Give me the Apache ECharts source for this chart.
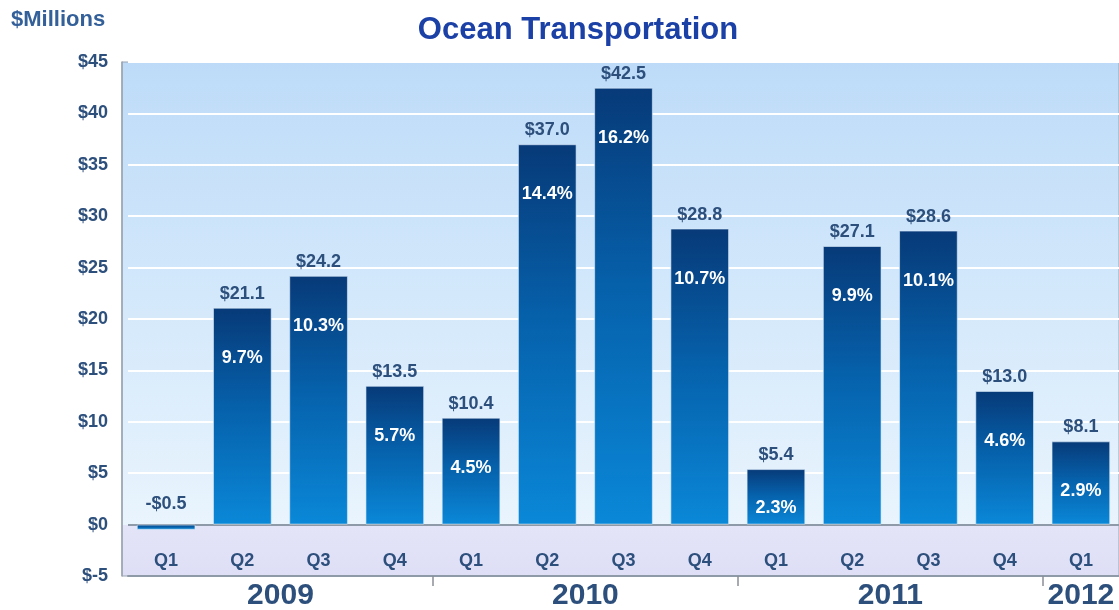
<!DOCTYPE html>
<html>
<head>
<meta charset="utf-8">
<script src="https://cdn.jsdelivr.net/npm/echarts@6/dist/echarts.min.js"></script>
<style>
html,body{margin:0;padding:0;background:#fff;}
#chart{width:1119px;height:610px;}
</style>
</head>
<body>
<div id="chart"></div>
<script>
var quarters = ['Q1','Q2','Q3','Q4','Q1','Q2','Q3','Q4','Q1','Q2','Q3','Q4','Q1'];
var values = [-0.5, 21.1, 24.2, 13.5, 10.4, 37.0, 42.5, 28.8, 5.4, 27.1, 28.6, 13.0, 8.1];
var margins = [null, '9.7%', '10.3%', '5.7%', '4.5%', '14.4%', '16.2%', '10.7%', '2.3%', '9.9%', '10.1%', '4.6%', '2.9%'];
var years = ['2009', '2010', '2011', '2012'];
var yearQuarterCounts = [4, 4, 4, 1];
var yTicks = [-5, 0, 5, 10, 15, 20, 25, 30, 35, 40, 45];

// Half-step axis for the year labels (boundaryGap false, 2 steps per quarter)
var halfSlots = [];
for (var i = 0; i <= quarters.length * 2; i++) halfSlots.push('');
var yearLabelIdx = {}, yearTickIdx = {};
var acc = 0;
for (var k = 0; k < years.length; k++) {
  var c = yearQuarterCounts[k];
  yearLabelIdx[acc * 2 + c] = years[k];
  acc += c;
  if (acc < quarters.length) yearTickIdx[acc * 2] = true;
}
for (var key in yearLabelIdx) halfSlots[key] = yearLabelIdx[key];

var barData = values.map(function (v) {
  return v < 0 ? {value: v, label: {distance: 12}} : v;
});
var pctData = values.map(function (v) {
  return v < 7 ? {value: v, label: {distance: 30}} : v;
});
// grid line colours: white, except the zero line which is grey
var splitColors = yTicks.map(function (t) { return t === 0 ? '#8f9aa8' : '#ffffff'; });

var txt = '#2d4f7c';
var bgGradient = new echarts.graphic.LinearGradient(0, 0, 0, 1, [
  {offset: 0, color: '#bddbf8'},
  {offset: 0.45, color: '#d3e8fb'},
  {offset: 0.899, color: '#e9f4fd'},
  {offset: 0.9, color: '#e4e4f8'},
  {offset: 1, color: '#dedff6'}
]);

var chart = echarts.init(document.getElementById('chart'));
chart.setOption({
  animation: false,
  title: {
    text: 'Ocean Transportation',
    left: 573, top: 10, textAlign: 'center',
    textStyle: {color: '#1b40a6', fontSize: 31, fontWeight: 'bold', fontFamily: 'Liberation Sans'}
  },
  graphic: [{
    type: 'text', left: 11, top: 9,
    style: {text: '$Millions', fill: '#34609a', font: 'bold 22px "Liberation Sans"'}
  }, {
    type: 'rect', z: -10, silent: true,
    shape: {x: 122, y: 62, width: 997, height: 514},
    style: {fill: bgGradient, stroke: '#9aa4b0', lineWidth: 1}
  }],
  grid: {
    left: 128, right: 0, top: 62, bottom: 34,
    outerBoundsMode: 'none',
    containLabel: false,
    show: false
  },
  xAxis: [{
    type: 'category',
    data: quarters,
    position: 'bottom',
    axisLine: {onZero: false, show: true, lineStyle: {color: '#8f9aa8', width: 2}},
    axisTick: {show: false},
    axisLabel: {inside: true, color: txt, fontSize: 18, fontWeight: 'bold', fontFamily: 'Liberation Sans', margin: 6},
    splitLine: {show: false}
  }, {
    type: 'category',
    data: halfSlots,
    position: 'bottom',
    boundaryGap: false,
    axisLine: {onZero: false, show: false},
    axisTick: {
      show: true, length: 10, inside: false,
      interval: function (idx) { return !!yearTickIdx[idx]; },
      lineStyle: {color: '#8a8f96', width: 1.5}
    },
    axisLabel: {
      color: txt, fontSize: 30, fontWeight: 'bold', fontFamily: 'Liberation Sans', margin: 5,
      interval: function (idx) { return !!yearLabelIdx[idx]; }
    },
    splitLine: {show: false}
  }],
  yAxis: {
    type: 'value',
    min: yTicks[0], max: yTicks[yTicks.length - 1], interval: 5,
    offset: 6,
    axisLine: {show: true, lineStyle: {color: '#9aa4b0', width: 1.5}},
    axisTick: {show: false},
    axisLabel: {
      color: txt, fontSize: 18, fontWeight: 'bold', fontFamily: 'Liberation Sans', margin: 14,
      formatter: function (v) { return (v < 0 ? '$-' + Math.abs(v) : '$' + v); }
    },
    splitLine: {lineStyle: {color: splitColors, width: 2}}
  },
  series: [{
    type: 'bar',
    data: barData,
    barWidth: '77%',
    z: 3,
    itemStyle: {
      color: {
        type: 'linear', x: 0, y: 0, x2: 0, y2: 1,
        colorStops: [
          {offset: 0, color: '#073a78'},
          {offset: 0.45, color: '#0660aa'},
          {offset: 1, color: '#0a88d8'}
        ]
      },
      borderColor: 'rgba(220,235,250,0.6)', borderWidth: 1
    },
    label: {
      show: true, position: 'top', distance: 5,
      color: txt, fontSize: 18, fontWeight: 'bold', fontFamily: 'Liberation Sans',
      formatter: function (p) {
        var v = p.value;
        return (v < 0 ? '-$' : '$') + Math.abs(v).toFixed(1);
      }
    }
  }, {
    type: 'bar',
    data: pctData,
    barWidth: '77%',
    barGap: '-100%',
    z: 4,
    itemStyle: {color: 'rgba(0,0,0,0)'},
    label: {
      show: true, position: 'insideTop', distance: 41,
      color: '#ffffff', fontSize: 18, fontWeight: 'bold', fontFamily: 'Liberation Sans',
      formatter: function (p) { return margins[p.dataIndex] || ''; }
    },
    silent: true
  }]
});
</script>
</body>
</html>
